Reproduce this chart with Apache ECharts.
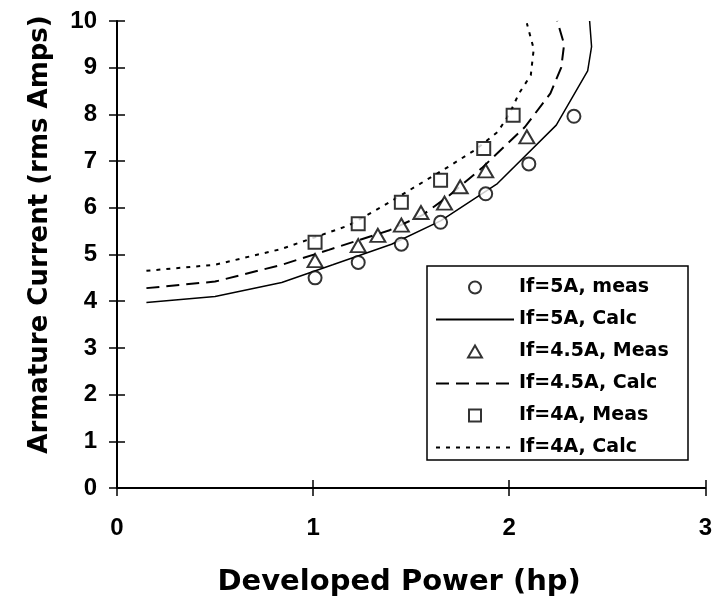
<!DOCTYPE html>
<html>
<head>
<meta charset="utf-8">
<script src="https://cdn.jsdelivr.net/npm/echarts@6/dist/echarts.min.js"></script>
<style>
  html, body { margin: 0; padding: 0; background: #fff; }
  #chart { width: 715px; height: 602px; }
</style>
</head>
<body>
<div id="chart"></div>
<script>
// Armature current versus developed power for three field currents.

// Measured points, If = 5 A
const meas5Power = [1.01, 1.23, 1.45, 1.65, 1.88, 2.10, 2.33];
const meas5Current = [4.50, 4.83, 5.22, 5.69, 6.30, 6.94, 7.96];

// Measured points, If = 4.5 A
const meas45Power = [1.01, 1.23, 1.33, 1.45, 1.55, 1.67, 1.75, 1.88, 2.09];
const meas45Current = [4.87, 5.19, 5.41, 5.63, 5.90, 6.10, 6.45, 6.79, 7.52];

// Measured points, If = 4 A
const meas4Power = [1.01, 1.23, 1.45, 1.65, 1.87, 2.02];
const meas4Current = [5.26, 5.66, 6.12, 6.59, 7.27, 7.98];

// Calculated curves
const calc5Power = [0.15, 0.50, 0.84, 1.10, 1.40, 1.65, 1.94, 2.24, 2.40, 2.42, 2.41];
const calc5Current = [3.97, 4.10, 4.40, 4.78, 5.22, 5.72, 6.52, 7.77, 8.93, 9.45, 10.0];

const calc45Power = [0.15, 0.50, 0.84, 1.08, 1.39, 1.56, 1.69, 1.86, 2.08, 2.21, 2.265, 2.28, 2.245];
const calc45Current = [4.28, 4.42, 4.78, 5.10, 5.52, 5.85, 6.25, 6.85, 7.73, 8.45, 9.00, 9.50, 10.0];

const calc4Power = [0.15, 0.50, 0.84, 1.01, 1.18, 1.35, 1.52, 1.69, 1.83, 1.94, 2.00, 2.05, 2.11, 2.125, 2.09];
const calc4Current = [4.65, 4.78, 5.12, 5.37, 5.62, 6.02, 6.45, 6.88, 7.25, 7.62, 8.00, 8.45, 8.84, 9.40, 9.95];

// Axis ranges
const xTicks = [0, 1, 2, 3];
const yTicks = [0, 1, 2, 3, 4, 5, 6, 7, 8, 9, 10];

const seriesNames = ['If=5A, meas', 'If=5A, Calc', 'If=4.5A, Meas', 'If=4.5A, Calc', 'If=4A, Meas', 'If=4A, Calc'];

const zip = (a, b) => a.map((v, i) => [v, b[i]]);
const TICK_FONT = 'Liberation Sans, Arial, sans-serif';
const TEXT_FONT = 'DejaVu Sans, Verdana, sans-serif';

const TRIANGLE = 'path://M0,10 L5.8,0 L11.6,10 Z';
const SQUARE = 'path://M0,0 L10,0 L10,10 L0,10 Z';

const chart = echarts.init(document.getElementById('chart'), null, { renderer: 'canvas' });

function xAxisDef(inside, withLabels) {
  return {
    type: 'value', gridIndex: 0, position: 'bottom',
    min: xTicks[0], max: xTicks[xTicks.length - 1], interval: 1,
    axisLine: { show: withLabels, onZero: false, lineStyle: { color: '#000', width: 2 } },
    axisTick: { show: true, inside: inside, length: 8, lineStyle: { color: '#000', width: 1.5 } },
    axisLabel: { show: withLabels, margin: 28, color: '#000', fontFamily: TICK_FONT, fontWeight: 'bold', fontSize: 24 },
    splitLine: { show: false },
    name: withLabels ? 'Developed Power (hp)' : '',
    nameLocation: 'middle', nameGap: 80,
    nameTextStyle: { color: '#000', fontFamily: TEXT_FONT, fontWeight: 'bold', fontSize: 29, padding: [0, 24, 0, 0] }
  };
}
function yAxisDef(inside, withLabels) {
  return {
    type: 'value', gridIndex: 0, position: 'left',
    min: yTicks[0], max: yTicks[yTicks.length - 1], interval: 1,
    axisLine: { show: withLabels, onZero: false, lineStyle: { color: '#000', width: 2 } },
    axisTick: { show: true, inside: inside, length: 8, lineStyle: { color: '#000', width: 1.5 } },
    axisLabel: { show: withLabels, margin: 20, color: '#000', fontFamily: TICK_FONT, fontWeight: 'bold', fontSize: 24 },
    splitLine: { show: false },
    name: withLabels ? 'Armature Current (rms Amps)' : '',
    nameLocation: 'middle', nameGap: 64, nameRotate: 90,
    nameTextStyle: { color: '#000', fontFamily: TEXT_FONT, fontWeight: 'bold', fontSize: 26, padding: [0, 0, 0, 40] }
  };
}

const markerStyle = { color: '#fff', borderColor: '#000', borderWidth: 2 };
const hiddenSymbol = { opacity: 0 };

chart.setOption({
  backgroundColor: '#fff',
  animation: false,
  grid: { left: 117, right: 7, top: 21, bottom: 113, containLabel: false },
  xAxis: [xAxisDef(false, true), xAxisDef(true, false)],
  yAxis: [yAxisDef(false, true), yAxisDef(true, false)],
  legend: {
    orient: 'vertical', left: 435, top: 278, padding: 0,
    itemWidth: 78, itemHeight: 12, itemGap: 13,
    symbolKeepAspect: true,
    data: [
      { name: seriesNames[0] },
      { name: seriesNames[1], itemStyle: hiddenSymbol },
      { name: seriesNames[2], icon: TRIANGLE },
      { name: seriesNames[3], itemStyle: hiddenSymbol },
      { name: seriesNames[4], icon: SQUARE },
      { name: seriesNames[5], itemStyle: hiddenSymbol }
    ],
    textStyle: { color: '#000', fontFamily: TEXT_FONT, fontWeight: 'bold', fontSize: 19 },
    selectedMode: false
  },
  graphic: [{
    type: 'rect', shape: { x: 427, y: 266, width: 261, height: 194 },
    style: { fill: '#fff', stroke: '#000', lineWidth: 1.5 }, z: 0, silent: true
  }],
  series: [
    {
      name: seriesNames[0], type: 'scatter', data: zip(meas5Power, meas5Current),
      symbol: 'circle', symbolSize: 13, itemStyle: markerStyle, z: 5
    },
    {
      name: seriesNames[1], type: 'line', data: zip(calc5Power, calc5Current),
      showSymbol: false, symbol: 'none', lineStyle: { color: '#000', width: 1.5, type: 'solid' }, itemStyle: { color: '#000' }, z: 3
    },
    {
      name: seriesNames[2], type: 'scatter', data: zip(meas45Power, meas45Current),
      symbol: TRIANGLE, symbolSize: [15, 13], itemStyle: markerStyle, z: 5
    },
    {
      name: seriesNames[3], type: 'line', data: zip(calc45Power, calc45Current),
      showSymbol: false, symbol: 'none', lineStyle: { color: '#000', width: 2, type: [13, 7] }, itemStyle: { color: '#000' }, z: 3
    },
    {
      name: seriesNames[4], type: 'scatter', data: zip(meas4Power, meas4Current),
      symbol: SQUARE, symbolSize: 13, itemStyle: markerStyle, z: 5
    },
    {
      name: seriesNames[5], type: 'line', data: zip(calc4Power, calc4Current),
      showSymbol: false, symbol: 'none', lineStyle: { color: '#000', width: 2, type: [4, 6] }, itemStyle: { color: '#000' }, z: 3
    }
  ]
});
</script>
</body>
</html>
